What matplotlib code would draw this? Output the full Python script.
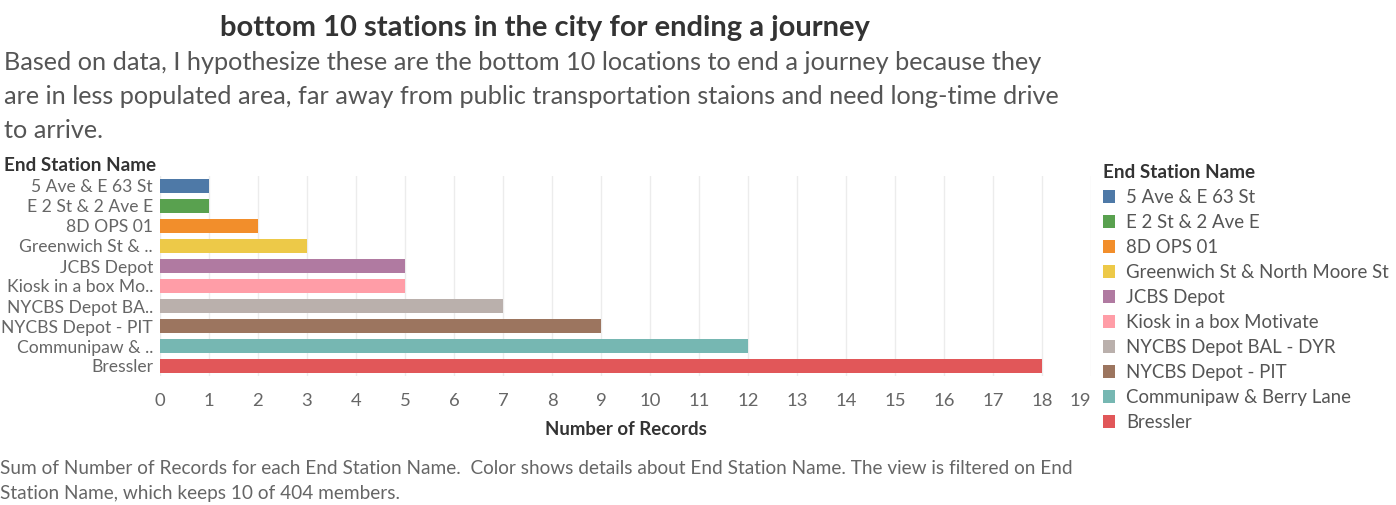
import matplotlib.pyplot as plt
from matplotlib.patches import Patch

# data
stations = ["5 Ave & E 63 St", "E 2 St & 2 Ave E", "8D OPS 01",
            "Greenwich St & North Moore St", "JCBS Depot", "Kiosk in a box Motivate",
            "NYCBS Depot BAL - DYR", "NYCBS Depot - PIT", "Communipaw & Berry Lane",
            "Bressler"]
tick_labels = ["5 Ave & E 63 St", "E 2 St & 2 Ave E", "8D OPS 01", "Greenwich St & ..",
               "JCBS Depot", "Kiosk in a box Mo..", "NYCBS Depot BA..", "NYCBS Depot - PIT",
               "Communipaw & ..", "Bressler"]
records = [1, 1, 2, 3, 5, 5, 7, 9, 12, 18]
colors = ["#4E79A7", "#59A14F", "#F28E2B", "#EDC948", "#B07AA1",
          "#FF9DA7", "#BAB0AC", "#9C755F", "#76B7B2", "#E15759"]
x_ticks = list(range(0, 20))

plt.rcParams['font.family'] = ['Lato', 'DejaVu Sans']

W, H = 1396, 505
fig = plt.figure(figsize=(W / 100, H / 100), dpi=100)

def fx(px):
    return px / W

def fy(py):
    return 1 - py / H

ax = fig.add_axes([fx(160), fy(376), fx(1091) - fx(160), fy(176) - fy(376)])
ax.barh(range(len(records)), records, height=0.72, color=colors, zorder=3)
ax.set_ylim(9.5, -0.5)
ax.set_xlim(0, 19)
ax.set_xticks(x_ticks)
ax.set_yticks(range(len(tick_labels)))
ax.set_yticklabels(tick_labels)
ax.tick_params(axis='both', length=0, labelsize=13.3, labelcolor='#666666')
ax.tick_params(axis='y', pad=5, labelsize=12.6)
ax.tick_params(axis='x', pad=12)
ax.get_xticklabels()[-1].set_horizontalalignment('right')
ax.grid(axis='x', color='#ececec', linewidth=1, zorder=0)
for s in ax.spines.values():
    s.set_visible(False)
ax.set_xlabel("Number of Records", fontsize=13.4, fontweight='bold', color='#333333', labelpad=9)

fig.text(fx(545), fy(28), "bottom 10 stations in the city for ending a journey",
         fontsize=21, fontweight='bold', color='#333333', ha='center', va='center')
subtitle = ["Based on data, I hypothesize these are the bottom 10 locations to end a journey because they",
            "are in less populated area, far away from public transportation staions and need long-time drive",
            "to arrive."]
for i, line in enumerate(subtitle):
    fig.text(fx(4), fy(63 + 33.5 * i), line, fontsize=18.2, color='#555555', ha='left', va='center')

fig.text(fx(4), fy(165), "End Station Name", fontsize=13.6, fontweight='bold',
         color='#333333', ha='left', va='center')

handles = [Patch(facecolor=c, edgecolor='none') for c in colors]
leg = fig.legend(handles, stations, loc='upper left', bbox_to_anchor=(fx(1103), fy(164)),
                 frameon=False, title="End Station Name", alignment='left',
                 fontsize=13.4, handlelength=0.65, handleheight=0.65, labelspacing=0.43,
                 handletextpad=0.6, borderpad=0, borderaxespad=0)
leg.get_title().set_fontweight('bold')
leg.get_title().set_fontsize(13.6)
leg.get_title().set_color('#333333')
for t in leg.get_texts():
    t.set_color('#555555')

footer = ["Sum of Number of Records for each End Station Name.  Color shows details about End Station Name. The view is filtered on End",
          "Station Name, which keeps 10 of 404 members."]
for i, line in enumerate(footer):
    fig.text(fx(0), fy(469 + 25 * i), line, fontsize=13.7, color='#666666', ha='left', va='center')

fig.savefig("out.png", dpi=100)
